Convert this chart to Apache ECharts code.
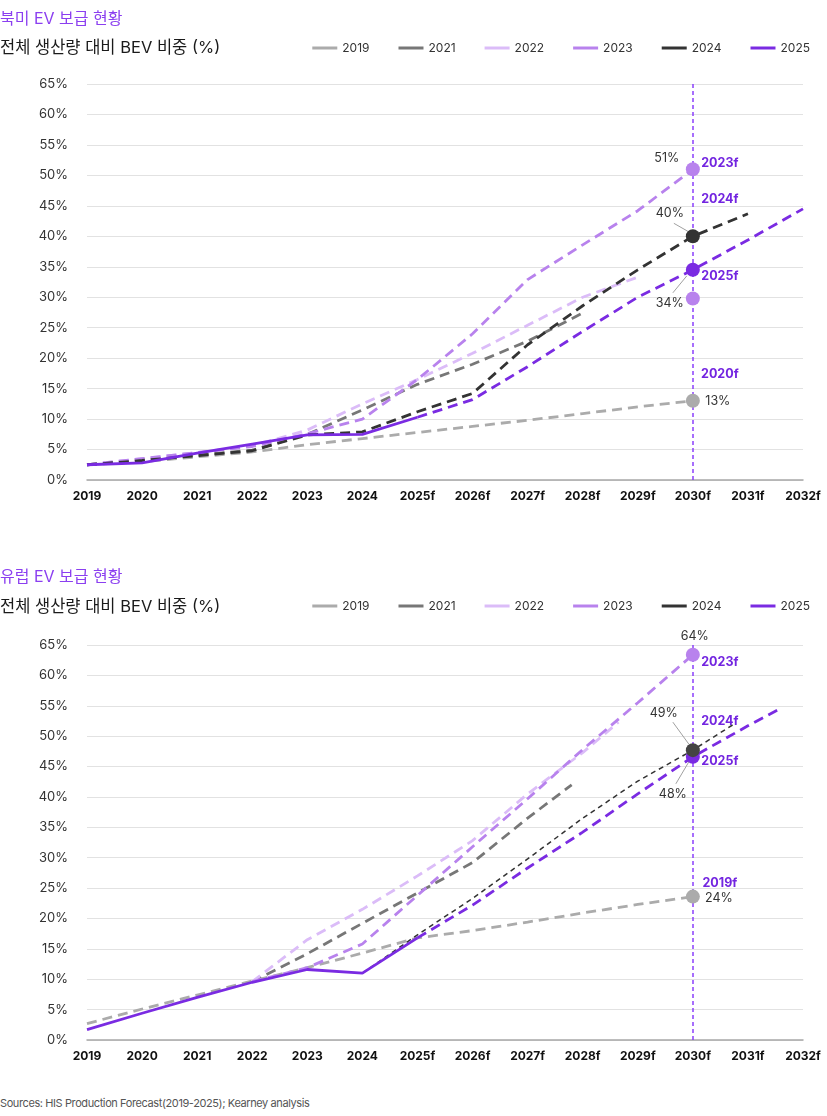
<!DOCTYPE html>
<html>
<head>
<meta charset="UTF-8">
<title>EV 보급 현황</title>
<script src="https://cdn.jsdelivr.net/npm/echarts@6/dist/echarts.min.js"></script>
<style>
  body { margin: 0; background: #fff; font-family: Inter, 'Noto Sans CJK KR', sans-serif; }
  #na { width: 827px; height: 555px; }
  #eu { width: 827px; height: 530px; }
  #src { position: absolute; left: 0; top: 1096px; font-size: 11px; color: #555; letter-spacing: -0.4px; }
</style>
</head>
<body>
<div id="na"></div>
<div id="eu"></div>
<div id="src">Sources: HIS Production Forecast(2019-2025); Kearney analysis</div>
<script>
// x축: 연도 (2025년부터 예측치 f)
var years = [2019, 2020, 2021, 2022, 2023, 2024, 2025, 2026, 2027, 2028, 2029, 2030, 2031, 2032];
var forecastFrom = 2025;
var legendNames = ['2019', '2021', '2022', '2023', '2024', '2025'];

// 북미 (%)
var na2019 = [2.5, 3.0, 3.8, 4.6, 5.8, 6.8, 7.8, 8.8, 9.8, 10.9, 12.0, 13.0, null, null];
var na2021 = [2.5, 3.3, 4.1, 4.9, 7.5, 11.5, 15.7, 19.0, 22.8, 27.4, null, null, null, null];
var na2022 = [2.5, 3.5, 4.5, 5.6, 8.2, 12.5, 16.5, 20.8, 25.4, 30.0, 33.3, null, null, null];
var na2023 = [2.5, 3.5, 4.5, 5.5, 7.6, 10.0, 16.5, 24.0, 32.9, 38.6, 44.2, 51.0, null, null];
var na2024 = [2.5, 3.2, 4.0, 4.8, 7.4, 7.9, 11.2, 14.2, 22.2, 28.6, 34.5, 40.0, 43.7, null];
var na2025 = [2.5, 2.8, 4.4, 5.9, 7.4, 7.5, 10.3, null, null, null, null, null, null, null];
var na2025f = [null, null, null, null, null, null, 10.3, 13.2, 18.6, 24.4, 30.0, 34.5, 39.4, 44.5];
var naDots = [51.0, 40.0, 34.5, 29.8, 13.0];
var naDotText = ['51%', '40%', '34%', '', '13%'];
var naDotTags = ['2023f', '2024f', '2025f', '', '2020f'];

// 유럽 (%)
var eu2019 = [2.7, 5.1, 7.4, 9.7, 11.9, 14.3, 16.8, 18.0, 19.4, 20.9, 22.3, 23.6, null, null];
var eu2021 = [null, null, null, 9.6, 14.2, 19.2, 24.2, 29.2, 36.5, null, null, null, null, null];
var eu2021End = [2027.8, 42.0];
var eu2022 = [null, null, null, 9.6, 16.5, 21.5, 27.0, 32.8, 40.5, 47.3, null, null, null, null];
var eu2022End = [2028.65, 52.3];
var eu2023 = [null, null, null, 9.6, 11.9, 15.8, 23.8, 31.8, 39.7, 47.8, 55.5, 63.4, null, null];
var eu2024 = [null, null, null, null, null, 11.0, 17.3, 23.3, 29.8, 36.5, 42.6, 47.7, null, null];
var eu2024End = [2030.75, 52.0];
var eu2025 = [1.7, 4.4, 7.0, 9.5, 11.6, 11.0, 16.8, null, null, null, null, null, null, null];
var eu2025f = [null, null, null, null, null, null, 16.8, 22.2, 28.3, 34.2, 40.5, 46.6, 51.7, null];
var eu2025End = [2031.6, 54.6];
var euDots = [63.4, 46.6, 47.7, 23.6];
var euDotText = ['64%', '48%', '49%', '24%'];
var euDotTags = ['2023f', '2025f', '2024f', '2019f'];

var col = {
  '2019': '#ababab', '2021': '#777777', '2022': '#dbbcf8',
  '2023': '#b882ed', '2024': '#333333', '2025': '#7a2be2'
};
var purple = '#7325e0';
var font = "Inter, 'Noto Sans CJK KR', sans-serif";

function pts(vals, end) {
  var out = [];
  years.forEach(function (y, i) {
    if (vals[i] != null) out.push([y, vals[i]]);
  });
  if (end) out.push(end);
  return out;
}

function line(name, data, opt) {
  opt = opt || {};
  return {
    name: name, type: 'line', data: data, symbol: 'none', silent: true,
    itemStyle: { color: col[name] },
    lineStyle: { color: col[name], width: opt.width || 2.8, type: opt.dash || [10, 6] },
    z: opt.z || 2
  };
}

function draw(id, cfg) {
  var chart = echarts.init(document.getElementById(id));
  var dots = cfg.dots.map(function (v, i) {
    var s = cfg.dotStyle[i];
    return {
      value: [2030, v],
      itemStyle: { color: s.color, opacity: 1 },
      label: { show: cfg.dotText[i] !== '', formatter: cfg.dotText[i], offset: s.pct }
    };
  });
  var tags = cfg.dots.map(function (v, i) {
    var s = cfg.dotStyle[i];
    return {
      value: [2030, v],
      label: { show: cfg.dotTags[i] !== '', formatter: cfg.dotTags[i], offset: s.tag }
    };
  });

  var series = cfg.lines.slice();
  series.push({
    type: 'scatter', data: dots, symbolSize: 14, silent: true, z: 5,
    itemStyle: { opacity: 1 },
    label: { position: 'inside', color: '#333', fontSize: 12.5, fontFamily: font },
    markLine: {
      symbol: 'none', silent: true, label: { show: false },
      lineStyle: { color: '#8a3ffc', type: [4, 3], width: 1.5 },
      data: [{ xAxis: 2030 }]
    }
  });
  series.push({
    type: 'scatter', data: tags, symbolSize: 0, silent: true, z: 6,
    itemStyle: { opacity: 1, color: purple },
    label: { position: 'inside', color: purple, opacity: 1, fontSize: 12.5, fontWeight: 'bold', fontFamily: font }
  });

  chart.setOption({
    animation: false,
    textStyle: { fontFamily: font },
    title: [
      { text: cfg.title, left: 0, top: cfg.titleTop, padding: 0,
        textStyle: { fontSize: 16, fontWeight: 'normal', color: '#8b3ff0', fontFamily: font } },
      { text: '전체 생산량 대비 BEV 비중 (%)', left: 0, top: cfg.subTop, padding: 0,
        textStyle: { fontSize: 16.5, fontWeight: 'normal', color: '#1a1a1a', fontFamily: font } }
    ],
    legend: {
      data: legendNames, right: 12, top: cfg.legendTop, icon: 'rect',
      itemWidth: 25, itemHeight: 3, itemGap: 29, selectedMode: false,
      textStyle: { fontSize: 12, color: '#333', fontFamily: font }
    },
    grid: { left: 87, right: 24, top: cfg.gridTop, bottom: cfg.gridBottom },
    xAxis: {
      type: 'value', min: 2019, max: 2032, interval: 1,
      axisLine: { show: true, lineStyle: { color: '#a8a8a8', width: 1.5 } },
      axisTick: { show: false },
      splitLine: { show: false },
      axisLabel: {
        margin: 10, fontSize: 12, fontWeight: 'bold', color: '#111',
        formatter: function (v) { return v >= forecastFrom ? v + 'f' : String(v); }
      }
    },
    yAxis: {
      type: 'value', min: 0, max: 65, interval: 5,
      axisLine: { show: false }, axisTick: { show: false },
      splitLine: { lineStyle: { color: '#e2e2e2', width: 1 } },
      axisLabel: { margin: 19, fontSize: 13, color: '#333', formatter: '{value}%' }
    },
    series: series
  });

  // 라벨 지시선
  var g = [];
  cfg.dotStyle.forEach(function (s, i) {
    if (!s.lead) return;
    var p = chart.convertToPixel({ gridIndex: 0 }, [2030, cfg.dots[i]]);
    g.push({
      type: 'line', silent: true, z: 10,
      shape: { x1: p[0] + s.lead[0][0], y1: p[1] + s.lead[0][1], x2: p[0] + s.lead[1][0], y2: p[1] + s.lead[1][1] },
      style: { stroke: '#a0a0a0', lineWidth: 1 }
    });
  });
  chart.setOption({ graphic: g });
}

draw('na', {
  title: '북미 EV 보급 현황', titleTop: 11, subTop: 40, legendTop: 37, gridTop: 84, gridBottom: 75,
  lines: [
    line('2019', pts(na2019)),
    line('2021', pts(na2021)),
    line('2022', pts(na2022)),
    line('2023', pts(na2023)),
    line('2024', pts(na2024), { z: 3 }),
    line('2025', pts(na2025), { dash: 'solid', z: 4 }),
    line('2025', pts(na2025f), { z: 4 })
  ],
  dots: naDots, dotText: naDotText, dotTags: naDotTags,
  dotStyle: [
    { color: col['2023'], pct: [-26, -11], tag: [27, -6] },
    { color: col['2024'], pct: [-23, -23], tag: [27, -37], lead: [[-19, -13], [-5, -5]] },
    { color: col['2025'], pct: [-23, 33], tag: [27, 6], lead: [[-20, 23], [-6, 6]] },
    { color: col['2023'], pct: [0, 0], tag: [0, 0] },
    { color: col['2019'], pct: [25, 0], tag: [27, -27] }
  ]
});

draw('eu', {
  title: '유럽 EV 보급 현황', titleTop: 14, subTop: 44, legendTop: 40, gridTop: 90, gridBottom: 45,
  lines: [
    line('2019', pts(eu2019)),
    line('2021', pts(eu2021, eu2021End)),
    line('2022', pts(eu2022, eu2022End)),
    line('2023', pts(eu2023)),
    line('2024', pts(eu2024, eu2024End), { width: 1.5, dash: [5, 4], z: 3 }),
    line('2025', pts(eu2025), { dash: 'solid', z: 4 }),
    line('2025', pts(eu2025f, eu2025End), { z: 4 })
  ],
  dots: euDots, dotText: euDotText, dotTags: euDotTags,
  dotStyle: [
    { color: col['2023'], pct: [2, -18], tag: [27, 8] },
    { color: col['2025'], pct: [-20, 37], tag: [27, 4], lead: [[-17, 27], [-4, 5]] },
    { color: '#444444', pct: [-29, -37], tag: [27, -29], lead: [[-20, -28], [-4, -6]] },
    { color: col['2019'], pct: [26, 2], tag: [27, -13] }
  ]
});
</script>
</body>
</html>
